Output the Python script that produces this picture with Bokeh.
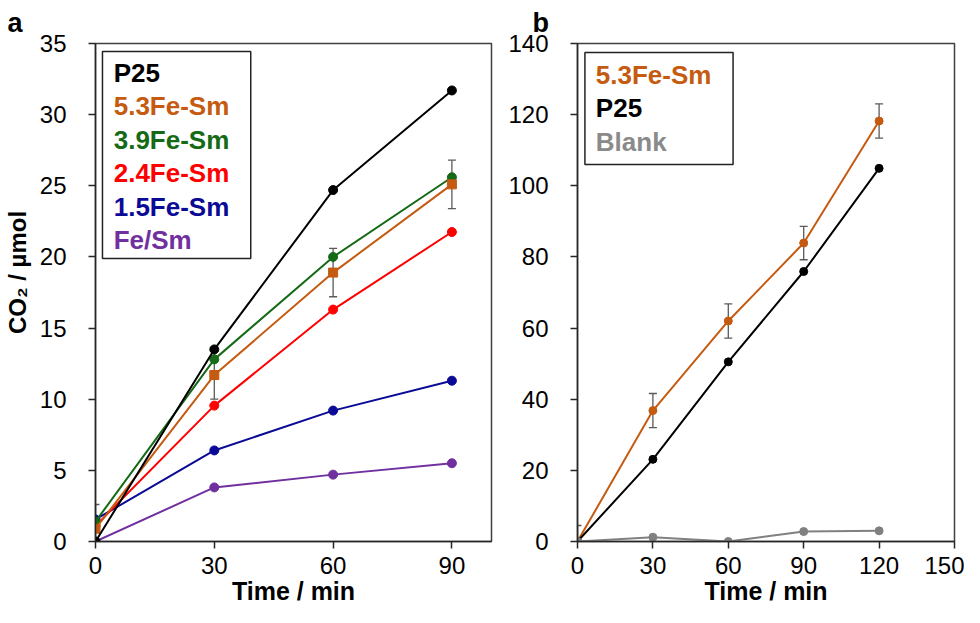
import numpy as np
from bokeh.plotting import figure
from bokeh.layouts import row
from bokeh.models import Whisker, BoxAnnotation, Label, FixedTicker, Range1d, TeeHead, ColumnDataSource
from bokeh.embed import file_html
from bokeh.resources import INLINE

# ---------------- data: panel a ----------------
time_a = [0, 30, 60, 90]
p25_a = [0.0, 13.5, 24.7, 31.7]
fe53_a = [0.9, 11.7, 18.9, 25.1]
fe53_a_err = [1.7, 1.7, 1.7, 1.7]
fe39_a = [1.4, 12.8, 20.0, 25.6]
fe24_a = [1.1, 9.55, 16.3, 21.75]
fe15_a = [1.55, 6.4, 9.2, 11.3]
fesm_a = [0.0, 3.8, 4.7, 5.5]
names_a = ["P25", "5.3Fe-Sm", "3.9Fe-Sm", "2.4Fe-Sm", "1.5Fe-Sm", "Fe/Sm"]
xticks_a = [0, 30, 60, 90]
yticks_a = [0, 5, 10, 15, 20, 25, 30, 35]

# ---------------- data: panel b ----------------
time_b = [0, 30, 60, 90, 120]
fe53_b = [0.0, 36.8, 62.0, 83.9, 118.2]
fe53_b_err = [4.5, 4.8, 4.8, 4.7, 4.8]
p25_b = [0.0, 23.1, 50.5, 75.9, 104.9]
blank_b = [0.0, 1.2, 0.0, 2.8, 3.0]
names_b = ["5.3Fe-Sm", "P25", "Blank"]
xticks_b = [0, 30, 60, 90, 120, 150]
yticks_b = [0, 20, 40, 60, 80, 100, 120, 140]

x_title = "Time / min"
y_title = "CO\u2082 / \u00b5mol"
panel_a = "a"
panel_b = "b"

# ---------------- styles ----------------
C_P25 = "#000000"
C_53 = "#C55A11"
C_39 = "#156A15"
C_24 = "#FF0000"
C_15 = "#0A0A96"
C_FESM = "#7030A0"
C_BLANK = "#808080"
C_BLANK_TXT = "#8A8A8A"
ERR = "#5A5A5A"
FONT = "Liberation Sans"


def make_fig(width, xr, yr, xt, yt, mbl, mbr, letter, letter_offset):
    p = figure(width=width, height=607, x_range=Range1d(*xr), y_range=Range1d(*yr),
               output_backend="svg", toolbar_location=None,
               min_border_left=mbl, min_border_right=mbr,
               min_border_top=43, min_border_bottom=66)
    p.xgrid.visible = False
    p.ygrid.visible = False
    p.background_fill_color = "white"
    p.border_fill_color = "white"
    p.outline_line_color = "#404040"
    p.outline_line_width = 1.5
    p.outline_line_alpha = 1.0
    p.xaxis.ticker = FixedTicker(ticks=xt)
    p.yaxis.ticker = FixedTicker(ticks=yt)
    for ax in (p.xaxis[0], p.yaxis[0]):
        ax.major_label_text_font = FONT
        ax.major_label_text_font_size = "24px"
        ax.major_label_text_color = "black"
        ax.axis_line_color = "#262626"
        ax.axis_line_width = 1.5
        ax.major_tick_line_color = "#262626"
        ax.major_tick_line_width = 1.5
        ax.major_tick_out = 7
        ax.major_tick_in = 0
        ax.minor_tick_line_color = None
        ax.axis_label_text_font = FONT
        ax.axis_label_text_font_style = "bold"
        ax.axis_label_text_color = "black"
    p.xaxis.major_label_standoff = 8
    p.yaxis.major_label_standoff = 22
    p.xaxis.axis_label = x_title
    p.xaxis.axis_label_text_font_size = "25px"
    p.xaxis.axis_label_standoff = 0
    p.title.text = letter
    p.title.align = "left"
    p.title.offset = letter_offset
    p.title.standoff = 11
    p.title.text_font = FONT
    p.title.text_font_size = "27px"
    p.title.text_font_style = "bold"
    p.title.text_color = "black"
    return p


def series(p, x, y, color, marker="circle", size=9):
    p.line(x, y, line_color=color, line_width=2)
    p.scatter(x, y, marker=marker, size=size, fill_color=color, line_color=color)


def errbars(p, x, y, e):
    y = np.array(y)
    e = np.array(e)
    src = ColumnDataSource(dict(x=x, up=y + e, lo=y - e))
    w = Whisker(source=src, base="x", upper="up", lower="lo",
                line_color=ERR, line_width=1.3,
                upper_head=TeeHead(size=8, line_color=ERR, line_width=1.3),
                lower_head=TeeHead(size=8, line_color=ERR, line_width=1.3))
    p.add_layout(w)


def txt(p, x, y, s, color="black", size="26px"):
    p.add_layout(Label(x=x, y=y, text=s, text_color=color, text_font=FONT,
                       text_font_size=size, text_font_style="bold",
                       text_align="left", text_baseline="alphabetic"))


# ---------------- panel a ----------------
pa = make_fig(505, (0, 100), (0, 35), xticks_a, yticks_a, 94, 14, panel_a, -88)
pa.yaxis.axis_label = "\u00a0" * 6 + y_title
pa.yaxis.axis_label_text_font_size = "24px"
pa.yaxis.axis_label_standoff = 6
series(pa, time_a, fesm_a, C_FESM)
series(pa, time_a, fe15_a, C_15)
series(pa, time_a, fe24_a, C_24)
series(pa, time_a, fe39_a, C_39)
series(pa, time_a, fe53_a, C_53, marker="square", size=9)
series(pa, time_a, p25_a, C_P25)
errbars(pa, time_a, fe53_a, fe53_a_err)

pa.add_layout(BoxAnnotation(left=1.76, right=39.2, bottom=19.89, top=34.43,
                            fill_color="white", fill_alpha=1.0,
                            line_color="#222222", line_width=1.5, line_alpha=1.0))
cols_a = [C_P25, C_53, C_39, C_24, C_15, C_FESM]
for i, (n, c) in enumerate(zip(names_a, cols_a)):
    txt(pa, 4.6, 32.96 - i * 2.355, n, color=c)

# ---------------- panel b ----------------
pb = make_fig(459, (0, 150), (0, 140), xticks_b, yticks_b, 68, 10, panel_b, -45)
series(pb, time_b, fe53_b, C_53, size=8)
series(pb, time_b, p25_b, C_P25, size=8)
series(pb, time_b, blank_b, C_BLANK, size=8)
errbars(pb, time_b, fe53_b, fe53_b_err)

pb.add_layout(BoxAnnotation(left=2.95, right=61.9, bottom=106.0, top=137.5,
                            fill_color="white", fill_alpha=1.0,
                            line_color="#222222", line_width=1.5, line_alpha=1.0))
cols_b = [C_53, C_P25, C_BLANK_TXT]
for i, (n, c) in enumerate(zip(names_b, cols_b)):
    txt(pb, 7.3, 131.2 - i * 9.42, n, color=c)

layout = row(pa, pb)
open("out.html", "w").write(file_html(layout, INLINE))
